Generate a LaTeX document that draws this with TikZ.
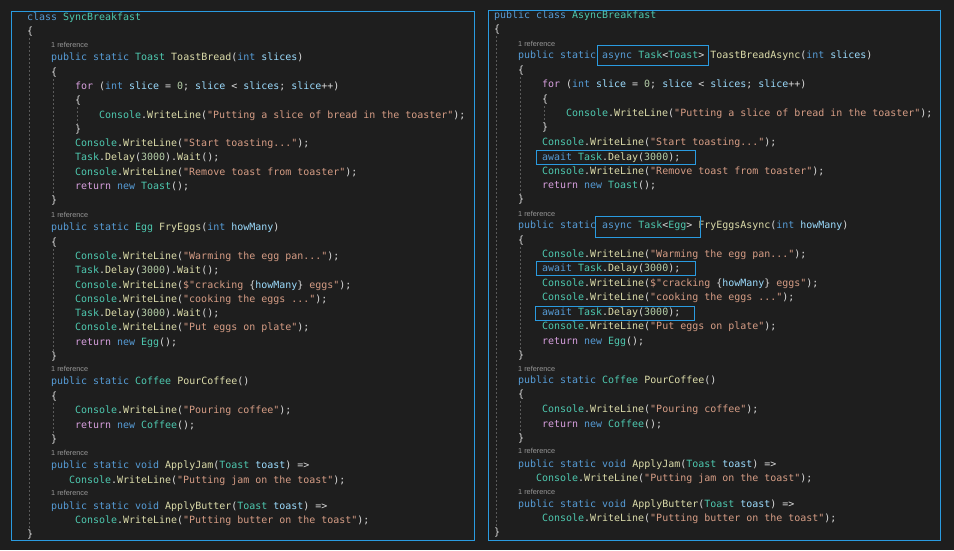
\documentclass[tikz,border=0pt]{standalone}
\usepackage{fontspec}
\newfontfamily\codefont{DejaVu Sans Mono}
\newfontfamily\reffont{Liberation Sans}
\definecolor{bg}{HTML}{1E1E1E}
\definecolor{pu}{HTML}{DCDCDC}
\definecolor{kwc}{HTML}{569CD6}
\definecolor{tyc}{HTML}{4EC9B0}
\definecolor{fnc}{HTML}{DCDCAA}
\definecolor{vac}{HTML}{9CDCFE}
\definecolor{ctc}{HTML}{D8A0DF}
\definecolor{nmc}{HTML}{B5CEA8}
\definecolor{stc}{HTML}{D69D85}
\definecolor{boxc}{HTML}{2A9BE0}
\definecolor{refc}{HTML}{999999}
\definecolor{guide}{HTML}{5A5A5A}
\newcommand\kw[1]{\textcolor{kwc}{#1}}
\newcommand\ty[1]{\textcolor{tyc}{#1}}
\newcommand\fn[1]{\textcolor{fnc}{#1}}
\newcommand\va[1]{\textcolor{vac}{#1}}
\newcommand\ct[1]{\textcolor{ctc}{#1}}
\newcommand\nm[1]{\textcolor{nmc}{#1}}
\newcommand\st[1]{\textcolor{stc}{#1}}
\newcount\lnct
\newcommand\cl[3]{\global\advance\lnct by 1 \node[codeline] (c\the\lnct) at (#1,#2+3.5) {#3};}
\newcommand\rf[2]{\global\advance\lnct by 1 \node[refline] (c\the\lnct) at (#1,#2+2.7) {1 reference};}
\newcommand\CW{\ty{Console}.\fn{WriteLine}}
\begin{document}
\begin{tikzpicture}[x=1pt,y=-1pt,
  codeline/.style={anchor=base west,inner sep=0pt,text=pu,font=\codefont\fontsize{9.97}{12}\selectfont},
  refline/.style={anchor=base west,inner sep=0pt,text=refc,font=\reffont\fontsize{7.3}{8}\selectfont},
  panel/.style={draw=boxc,line width=1pt},
  hl/.style={draw=boxc,line width=0.9pt},
  ig/.style={draw=guide,dashed,line width=0.5pt,dash pattern=on 2pt off 2pt}]
\fill[bg] (0,0) rectangle (954,550);
\useasboundingbox (0,0) rectangle (954,550);
\node[panel,minimum width=463,minimum height=529,anchor=north west,inner sep=0] (lp) at (11,11) {};
\node[panel,minimum width=452,minimum height=530,anchor=north west,inner sep=0] (rp) at (488,10) {};
% guides left
\draw[ig] (29,38) -- (29,530);
\draw[ig] (53,79) -- (53,196);
\draw[ig] (77,107) -- (77,125);
\draw[ig] (53,249) -- (53,352);
\draw[ig] (53,403) -- (53,435);
% guides right
\draw[ig] (496,36) -- (496,528);
\draw[ig] (520,77) -- (520,195);
\draw[ig] (544,106) -- (544,123);
\draw[ig] (520,247) -- (520,351);
\draw[ig] (520,401) -- (520,434);
% left code
\cl{27}{17}{\kw{class} \ty{SyncBreakfast}}
\cl{27}{31}{\{}
\rf{51}{45}
\cl{51}{57}{\kw{public} \kw{static} \ty{Toast} \fn{ToastBread}(\kw{int} \va{slices})}
\cl{51}{72}{\{}
\cl{75}{86}{\ct{for} (\kw{int} \va{slice} = \nm{0}; \va{slice} < \va{slices}; \va{slice}++)}
\cl{75}{100}{\{}
\cl{99}{115}{\CW(\st{"Putting a slice of bread in the toaster"});}
\cl{75}{129}{\}}
\cl{75}{143}{\CW(\st{"Start toasting..."});}
\cl{75}{157}{\ty{Task}.\fn{Delay}(\nm{3000}).\fn{Wait}();}
\cl{75}{172}{\CW(\st{"Remove toast from toaster"});}
\cl{75}{186}{\ct{return} \kw{new} \ty{Toast}();}
\cl{51}{200}{\}}
\rf{51}{215}
\cl{51}{227}{\kw{public} \kw{static} \ty{Egg} \fn{FryEggs}(\kw{int} \va{howMany})}
\cl{51}{242}{\{}
\cl{75}{256}{\CW(\st{"Warming the egg pan..."});}
\cl{75}{270}{\ty{Task}.\fn{Delay}(\nm{3000}).\fn{Wait}();}
\cl{75}{285}{\CW(\st{\$"cracking }\{\va{howMany}\}\st{\ eggs"});}
\cl{75}{299}{\CW(\st{"cooking the eggs ..."});}
\cl{75}{313}{\ty{Task}.\fn{Delay}(\nm{3000}).\fn{Wait}();}
\cl{75}{327}{\CW(\st{"Put eggs on plate"});}
\cl{75}{342}{\ct{return} \kw{new} \ty{Egg}();}
\cl{51}{356}{\}}
\rf{51}{369}
\cl{51}{381}{\kw{public} \kw{static} \ty{Coffee} \fn{PourCoffee}()}
\cl{51}{396}{\{}
\cl{75}{410}{\CW(\st{"Pouring coffee"});}
\cl{75}{425}{\ct{return} \kw{new} \ty{Coffee}();}
\cl{51}{439}{\}}
\rf{51}{453}
\cl{51}{465}{\kw{public} \kw{static} \kw{void} \fn{ApplyJam}(\ty{Toast} \va{toast}) =>}
\cl{69}{480}{\CW(\st{"Putting jam on the toast"});}
\rf{51}{493}
\cl{51}{506}{\kw{public} \kw{static} \kw{void} \fn{ApplyButter}(\ty{Toast} \va{toast}) =>}
\cl{75}{520}{\CW(\st{"Putting butter on the toast"});}
\cl{27}{534}{\}}
% right code
\cl{494}{15}{\kw{public} \kw{class} \ty{AsyncBreakfast}}
\cl{494}{29}{\{}
\rf{518}{44}
\cl{518}{55}{\kw{public} \kw{static} \kw{async} \ty{Task}<\ty{Toast}> \fn{ToastBreadAsync}(\kw{int} \va{slices})}
\cl{518}{70}{\{}
\cl{542}{84}{\ct{for} (\kw{int} \va{slice} = \nm{0}; \va{slice} < \va{slices}; \va{slice}++)}
\cl{542}{99}{\{}
\cl{566}{113}{\CW(\st{"Putting a slice of bread in the toaster"});}
\cl{542}{127}{\}}
\cl{542}{142}{\CW(\st{"Start toasting..."});}
\cl{542}{157}{\kw{await} \ty{Task}.\fn{Delay}(\nm{3000});}
\cl{542}{171}{\CW(\st{"Remove toast from toaster"});}
\cl{542}{185}{\ct{return} \kw{new} \ty{Toast}();}
\cl{518}{199}{\}}
\rf{518}{214}
\cl{518}{225}{\kw{public} \kw{static} \kw{async} \ty{Task}<\ty{Egg}> \fn{FryEggsAsync}(\kw{int} \va{howMany})}
\cl{518}{240}{\{}
\cl{542}{254}{\CW(\st{"Warming the egg pan..."});}
\cl{542}{268}{\kw{await} \ty{Task}.\fn{Delay}(\nm{3000});}
\cl{542}{283}{\CW(\st{\$"cracking }\{\va{howMany}\}\st{\ eggs"});}
\cl{542}{297}{\CW(\st{"cooking the eggs ..."});}
\cl{542}{312}{\kw{await} \ty{Task}.\fn{Delay}(\nm{3000});}
\cl{542}{326}{\CW(\st{"Put eggs on plate"});}
\cl{542}{341}{\ct{return} \kw{new} \ty{Egg}();}
\cl{518}{355}{\}}
\rf{518}{369}
\cl{518}{380}{\kw{public} \kw{static} \ty{Coffee} \fn{PourCoffee}()}
\cl{518}{394}{\{}
\cl{542}{409}{\CW(\st{"Pouring coffee"});}
\cl{542}{424}{\ct{return} \kw{new} \ty{Coffee}();}
\cl{518}{438}{\}}
\rf{518}{451}
\cl{518}{464}{\kw{public} \kw{static} \kw{void} \fn{ApplyJam}(\ty{Toast} \va{toast}) =>}
\cl{536}{478}{\CW(\st{"Putting jam on the toast"});}
\rf{518}{492}
\cl{518}{504}{\kw{public} \kw{static} \kw{void} \fn{ApplyButter}(\ty{Toast} \va{toast}) =>}
\cl{542}{518}{\CW(\st{"Putting butter on the toast"});}
\cl{494}{532}{\}}
% highlight boxes
\node[hl,minimum width=111,minimum height=20,anchor=north west,inner sep=0] (h1) at (597,45) {};
\node[hl,minimum width=159,minimum height=14,anchor=north west,inner sep=0] (h2) at (536,150) {};
\node[hl,minimum width=105,minimum height=21,anchor=north west,inner sep=0] (h3) at (595,216) {};
\node[hl,minimum width=159,minimum height=14,anchor=north west,inner sep=0] (h4) at (536,261) {};
\node[hl,minimum width=159,minimum height=14,anchor=north west,inner sep=0] (h5) at (535,306) {};
\end{tikzpicture}
\end{document}
